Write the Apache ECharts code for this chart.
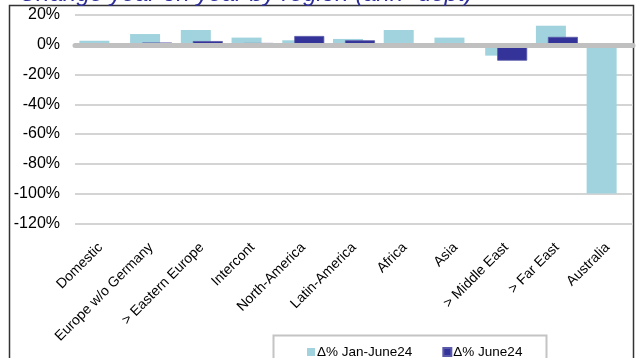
<!DOCTYPE html>
<html>
<head>
<meta charset="utf-8">
<style>
  html, body { margin: 0; padding: 0; background: #ffffff; }
  #chart { width: 638px; height: 358px; }
</style>
<script src="https://cdn.jsdelivr.net/npm/echarts@6/dist/echarts.min.js"></script>
</head>
<body>
<div id="chart"></div>
<script>
// Year-on-year change by region, in percent
const regions = ['Domestic', 'Europe w/o Germany', '> Eastern Europe', 'Intercont', 'North-America',
  'Latin-America', 'Africa', 'Asia', '> Middle East', '> Far East', 'Australia'];
const changeJanJune = [2.7, 7.2, 9.9, 4.8, 3.0, 3.9, 9.9, 4.8, -7.3, 12.8, -100];
const changeJune = [0, 1.5, 2.5, 1.2, 5.9, 3.0, 0, 0, -10.7, 5.3, 0];
const seriesNames = ['\u0394% Jan-June24', '\u0394% June24'];
const yTicks = { min: -120, max: 20, step: 20 };

const FONT = '"Liberation Sans", Arial, sans-serif';
const chart = echarts.init(document.getElementById('chart'), null, { renderer: 'canvas' });

chart.setOption({
  backgroundColor: '#ffffff',
  animation: false,
  graphic: [
    {
      type: 'rect', z: 0,
      shape: { x: 9.5, y: 5.5, width: 624, height: 360 },
      style: { fill: 'none', stroke: '#333333', lineWidth: 1.5 }
    },
    {
      type: 'text', z: 1, left: 19, top: -18,
      style: {
        text: 'Change year on year by region (ann- dept)',
        font: 'italic 24px ' + FONT,
        fill: '#2e2e9a'
      }
    },
    {
      type: 'rect', z: 1,
      shape: { x: 273.5, y: 335.5, width: 273, height: 30 },
      style: { fill: '#ffffff', stroke: '#c4c4c4', lineWidth: 2 }
    }
  ],
  legend: {
    data: seriesNames,
    left: 302, top: 340,
    itemWidth: 8, itemHeight: 8, itemGap: 30,
    icon: 'rect',
    textStyle: { fontFamily: FONT, fontSize: 13.5, color: '#000000', padding: [0, 0, 0, -3] },
    z: 5
  },
  grid: { left: 75, right: 5, top: 15, bottom: 134.7, containLabel: false },
  xAxis: [
    {
      type: 'category', data: regions,
      z: 10,
      axisLine: { onZero: true, lineStyle: { color: '#c0c0c0', width: 5 } },
      axisTick: { show: false },
      axisLabel: { show: false },
      splitLine: { show: false }
    },
    {
      type: 'category', data: regions, position: 'bottom',
      axisLine: { show: false, onZero: false },
      axisTick: { show: false },
      axisLabel: {
        rotate: 45, margin: 22, interval: 0,
        fontFamily: FONT, fontSize: 14, color: '#000000'
      }
    }
  ],
  yAxis: {
    type: 'value', min: yTicks.min, max: yTicks.max, interval: yTicks.step,
    axisLine: { show: false }, axisTick: { show: false },
    axisLabel: {
      formatter: '{value}%', margin: 15,
      fontFamily: FONT, fontSize: 16, color: '#000000'
    },
    splitLine: { lineStyle: { color: '#d4d4d4', width: 2 } }
  },
  series: [
    {
      name: seriesNames[0], type: 'bar', xAxisIndex: 0,
      data: changeJanJune, barWidth: 30, barGap: '-60%',
      itemStyle: { color: '#a0d3de' }, z: 2
    },
    {
      name: seriesNames[1], type: 'bar', xAxisIndex: 0,
      data: changeJune, barWidth: 30, barGap: '-60%',
      itemStyle: { color: '#333399', borderColor: '#5a5aaa', borderWidth: 0.8 }, z: 3
    }
  ]
});
</script>
</body>
</html>
